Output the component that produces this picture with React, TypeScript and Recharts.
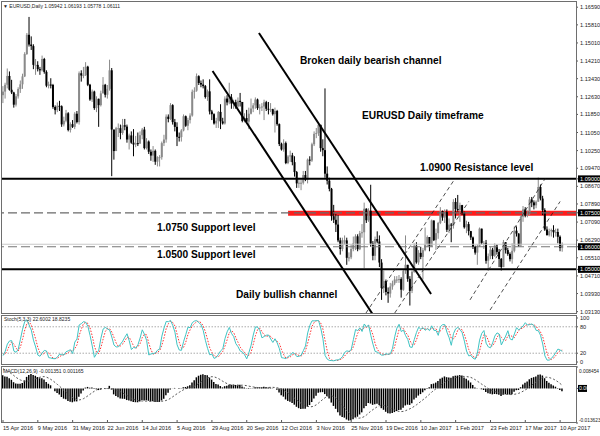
import React from "react";
import {
  ComposedChart,
  Bar,
  Line,
  XAxis,
  YAxis,
  ReferenceLine,
  ReferenceArea,
} from "recharts";

// Prices are written as pips above 1.0000 (1286 -> 1.1286)

// closes only, used to warm up the MACD averages (22 Feb - 16 Mar 2016)
const warmupCloses = [1020, 1017, 1015, 1025, 935, 873, 870, 866, 955, 1005, 1016, 1008, 996, 1180, 1150, 1106, 1105, 1223];

// bars before the visible window (17 Mar - 14 Apr 2016)
const preCloses = [1318, 1270, 1240, 1220, 1180, 1177, 1165, 1196, 1296, 1330, 1380, 1390, 1390, 1385, 1406, 1375, 1400, 1405, 1385, 1275, 1270];
const preHighs = [1342, 1330, 1280, 1265, 1230, 1190, 1200, 1210, 1305, 1345, 1395, 1440, 1410, 1420, 1415, 1440, 1420, 1435, 1465, 1395, 1300];
const preLows = [1215, 1255, 1215, 1170, 1160, 1145, 1150, 1155, 1180, 1290, 1320, 1330, 1360, 1360, 1350, 1360, 1360, 1385, 1370, 1265, 1235];

// visible daily bars, 15 Apr 2016 - 11 Apr 2017
const closes = [
  1286,
  1316, 1355, 1294, 1282, 1228, 1265, 1297, 1318, 1353, 1452,
  1537, 1494, 1487, 1404, 1404, 1385, 1380, 1430, 1373, 1312,
  1317, 1315, 1218, 1204, 1223, 1221, 1141, 1157, 1190, 1116,
  1142, 1130, 1188, 1151, 1367, 1357, 1359, 1396, 1316, 1251,
  1286, 1213, 1254, 1226, 1278, 1316, 1272, 1298, 1380, 1118,
  1023, 1124, 1124, 1103, 1137, 1131, 1074, 1092, 1060, 1052,
  1058, 1056, 1093, 1118, 1036, 1065, 1020, 1003, 1024, 976,
  996, 996, 1058, 1074, 1175, 1165, 1226, 1151, 1130, 1086,
  1085, 1114, 1177, 1135, 1160, 1180, 1285, 1290, 1354, 1324,
  1317, 1310, 1262, 1287, 1198, 1186, 1145, 1157, 1196, 1154,
  1145, 1255, 1238, 1260, 1233, 1239, 1220, 1245, 1240, 1156,
  1169, 1153, 1188, 1211, 1225, 1251, 1213, 1216, 1220, 1239,
  1210, 1206, 1208, 1186, 1200, 1142, 1054, 1030, 1058, 970,
  999, 1004, 974, 930, 880, 883, 883, 917, 896, 985,
  981, 1053, 1099, 1103, 1139, 1036, 1027, 923, 892, 856,
  735, 719, 698, 628, 590, 628, 628, 551, 553, 590,
  615, 646, 589, 660, 664, 768, 717, 759, 614, 560,
  634, 623, 530, 417, 448, 400, 393, 424, 438, 455,
  455, 457, 410, 494, 520, 458, 405, 489, 604, 531,
  573, 555, 585, 612, 643, 602, 716, 629, 660, 705,
  757, 729, 753, 675, 698, 694, 798, 767, 762, 784,
  751, 686, 700, 669, 641, 600, 574, 602, 680, 617,
  617, 538, 558, 587, 560, 605, 577, 546, 510, 620,
  585, 568, 545, 582, 671, 658, 606, 733, 765, 738,
  746, 809, 796, 783, 799, 864, 813, 762, 676, 651,
  669, 674, 664, 665, 644, 594, 611,
];
const highs = [
  1310,
  1325, 1388, 1375, 1338, 1285, 1275, 1305, 1335, 1365, 1460,
  1545, 1616, 1530, 1495, 1430, 1420, 1395, 1445, 1435, 1380,
  1330, 1345, 1320, 1225, 1238, 1245, 1225, 1175, 1205, 1195,
  1150, 1160, 1195, 1200, 1375, 1380, 1395, 1416, 1400, 1320,
  1295, 1290, 1265, 1255, 1290, 1350, 1320, 1315, 1427, 1390,
  1115, 1130, 1145, 1140, 1165, 1165, 1140, 1100, 1110, 1120,
  1090, 1105, 1110, 1125, 1130, 1080, 1070, 1030, 1045, 1030,
  1000, 1005, 1065, 1095, 1185, 1185, 1235, 1230, 1165, 1150,
  1105, 1120, 1185, 1180, 1170, 1190, 1295, 1305, 1366, 1358,
  1335, 1340, 1315, 1295, 1340, 1205, 1190, 1170, 1200, 1230,
  1170, 1265, 1270, 1325, 1275, 1250, 1250, 1260, 1280, 1240,
  1190, 1205, 1215, 1255, 1235, 1260, 1255, 1230, 1235, 1250,
  1245, 1240, 1235, 1210, 1215, 1205, 1145, 1060, 1075, 1065,
  1005, 1025, 1015, 1000, 935, 905, 900, 935, 935, 990,
  1000, 1060, 1110, 1125, 1145, 1100, 1075, 1300, 955, 905,
  860, 785, 745, 740, 640, 640, 650, 640, 575, 610,
  645, 655, 655, 670, 700, 795, 770, 770, 874, 625,
  645, 668, 650, 545, 495, 455, 420, 440, 450, 470,
  470, 475, 465, 500, 650, 495, 470, 495, 615, 620,
  585, 600, 595, 685, 650, 630, 720, 715, 680, 710,
  775, 760, 765, 765, 725, 705, 810, 815, 829, 795,
  785, 755, 715, 710, 670, 645, 605, 610, 685, 680,
  625, 630, 570, 600, 595, 615, 610, 590, 550, 630,
  620, 595, 575, 615, 690, 690, 660, 740, 780, 775,
  760, 820, 820, 805, 805, 906, 875, 825, 770, 690,
  680, 680, 695, 680, 680, 650, 619,
];
const lows = [
  1235,
  1255, 1300, 1290, 1275, 1215, 1220, 1255, 1280, 1298, 1350,
  1448, 1485, 1470, 1385, 1360, 1375, 1360, 1375, 1365, 1305,
  1300, 1300, 1210, 1185, 1195, 1200, 1130, 1132, 1150, 1110,
  1105, 1125, 1120, 1145, 1140, 1330, 1345, 1355, 1310, 1245,
  1240, 1205, 1195, 1130, 1220, 1300, 1260, 1255, 1290, 912,
  985, 1025, 1085, 1075, 1095, 1115, 1060, 1030, 1055, 1000,
  1040, 1045, 1055, 1075, 1030, 1030, 1010, 980, 975, 962,
  955, 955, 985, 1045, 1060, 1150, 1160, 1140, 1110, 1045,
  1065, 1065, 1110, 1130, 1115, 1145, 1175, 1255, 1285, 1315,
  1305, 1300, 1255, 1245, 1185, 1160, 1140, 1125, 1125, 1120,
  1140, 1140, 1225, 1230, 1210, 1210, 1210, 1215, 1220, 1150,
  1150, 1150, 1120, 1185, 1195, 1210, 1205, 1185, 1200, 1160,
  1200, 1185, 1195, 1180, 1105, 1135, 1045, 1025, 1020, 965,
  965, 975, 960, 910, 860, 860, 850, 875, 890, 880,
  960, 975, 1045, 1080, 1090, 1020, 1000, 905, 875, 845,
  715, 705, 665, 620, 565, 580, 610, 520, 535, 545,
  580, 585, 580, 585, 640, 505, 705, 710, 600, 540,
  540, 615, 510, 365, 395, 385, 352, 375, 410, 430,
  440, 440, 375, 405, 480, 445, 340, 395, 485, 525,
  520, 545, 455, 580, 600, 580, 600, 625, 585, 635,
  700, 715, 705, 665, 660, 620, 680, 725, 755, 710,
  740, 680, 660, 650, 630, 590, 565, 520, 600, 610,
  590, 525, 494, 545, 545, 555, 565, 510, 495, 510,
  570, 560, 535, 525, 575, 645, 600, 600, 710, 730,
  730, 740, 775, 765, 770, 800, 805, 740, 670, 650,
  645, 645, 640, 645, 615, 580, 578,
];

const dateTickBars = [0, 16, 32, 48, 64, 80, 96, 112, 128, 144, 160, 176, 192, 208, 224, 240, 256];
const dateLabels = [
  "15 Apr 2016", "9 May 2016", "31 May 2016", "22 Jun 2016", "14 Jul 2016", "5 Aug 2016",
  "29 Aug 2016", "20 Sep 2016", "12 Oct 2016", "3 Nov 2016", "25 Nov 2016", "19 Dec 2016",
  "10 Jan 2017", "1 Feb 2017", "23 Feb 2017", "17 Mar 2017", "10 Apr 2017",
];

const priceTicks = [
  1.1659, 1.1581, 1.1501, 1.1421, 1.1343, 1.1263, 1.1185, 1.1105, 1.1025,
  1.0947, 1.0867, 1.0789, 1.0709, 1.0629, 1.0551, 1.0471, 1.0393, 1.0313,
];
const markedLevels = [1.09, 1.075, 1.06, 1.05];
const stochTicks = [0, 20, 80, 100];
const macdTicks = [0.008454, 0, -0.013623];

// hand drawn objects: [bar, price] pairs
const bearishChannel = [
  [[96.3, 1.1377], [169.7, 1.0304]],
  [[117.6, 1.1545], [196.7, 1.0391]],
];
const bullishChannel = [
  [[166.8, 1.0307], [207.7, 1.0901]],
  [[180.0, 1.0307], [214.0, 1.0800]],
  [[214.6, 1.0365], [249.1, 1.0901]],
  [[223.8, 1.0320], [256.0, 1.0800]],
];

const X_DOMAIN: [number, number] = [-0.46, 263.3];
const PRICE_DOMAIN: [number, number] = [1.0307, 1.1682];
const BULL = "#8a8a8a";
const BEAR = "#000";
const FONT = "'Liberation Sans', Arial, sans-serif";

const px = (p: number) => 1 + p / 10000;

const bars = closes.map((c, i) => {
  const o = i === 0 ? preCloses[preCloses.length - 1] : closes[i - 1];
  const h = px(Math.max(highs[i], o, c));
  const l = px(Math.min(lows[i], o, c));
  return { i, o: px(o), h, l, c: px(c), range: [l, h] };
});

// indicators over pre-history + visible bars
const allC = [...warmupCloses, ...preCloses, ...closes].map(px);
const hlOffset = warmupCloses.length;
const allH = [...preHighs.map(px), ...bars.map((b) => b.h)];
const allL = [...preLows.map(px), ...bars.map((b) => b.l)];
const first = warmupCloses.length + preCloses.length;

const ema = (src: number[], n: number) => {
  const a = 2 / (n + 1);
  const out: number[] = [];
  src.forEach((v, i) => out.push(i === 0 ? v : out[i - 1] + a * (v - out[i - 1])));
  return out;
};
const e12 = ema(allC, 12);
const e26 = ema(allC, 26);
const macdAll = allC.map((_, i) => e12[i] - e26[i]);
const sigAll = macdAll.map((_, i) => {
  const s = macdAll.slice(Math.max(0, i - 8), i + 1);
  return s.reduce((a, b) => a + b, 0) / s.length;
});

const stochC = allC.slice(hlOffset);
const num: number[] = [];
const den: number[] = [];
stochC.forEach((c, i) => {
  const from = Math.max(0, i - 4);
  const lo = Math.min(...allL.slice(from, i + 1));
  const hi = Math.max(...allH.slice(from, i + 1));
  num.push(c - lo);
  den.push(hi - lo);
});
const kAll = stochC.map((_, i) => {
  const from = Math.max(0, i - 2);
  const n = num.slice(from, i + 1).reduce((a, b) => a + b, 0);
  const d = den.slice(from, i + 1).reduce((a, b) => a + b, 0);
  return d > 0 ? (100 * n) / d : 50;
});
const dAll = kAll.map((_, i) => {
  const s = kAll.slice(Math.max(0, i - 2), i + 1);
  return s.reduce((a, b) => a + b, 0) / s.length;
});

const rows = bars.map((b, j) => ({
  ...b,
  macd: macdAll[first + j],
  signal: sigAll[first + j],
  k: kAll[preCloses.length + j],
  d: dAll[preCloses.length + j],
}));

const Candle = (props: any) => {
  const { x, y, width, height, payload } = props;
  if (!payload) return null;
  let top = y;
  let hgt = height;
  if (hgt < 0) {
    top = y + hgt;
    hgt = -hgt;
  }
  const span = payload.h - payload.l || 1e-9;
  const toY = (v: number) => top + ((payload.h - v) / span) * hgt;
  const cx = x + width / 2;
  const color = payload.c >= payload.o ? BULL : BEAR;
  const bTop = toY(Math.max(payload.o, payload.c));
  const bBot = toY(Math.min(payload.o, payload.c));
  return (
    <g>
      <line x1={cx} x2={cx} y1={top} y2={top + hgt} stroke={color} strokeWidth={1} />
      <rect x={cx - 1} y={bTop} width={2} height={Math.max(1, bBot - bTop)} fill={color} />
    </g>
  );
};

const PriceTick = (props: any) => {
  const { x, y, payload } = props;
  const v = payload.value;
  const marked = markedLevels.some((m) => Math.abs(m - v) < 1e-7);
  return (
    <g>
      {marked && <rect x={x - 2} y={y - 3.5} width={24} height={7} fill="#000" />}
      <text x={x} y={y} dy="0.36em" fontSize={5.6} fontFamily={FONT} fill={marked ? "#fff" : "#222"} textAnchor="start">
        {v.toFixed(5)}
      </text>
    </g>
  );
};

const StochTick = (props: any) => {
  const { x, y, payload } = props;
  return (
    <text x={x} y={y} dy="0.36em" fontSize={5.6} fontFamily={FONT} fill="#222" textAnchor="start">
      {payload.value}
    </text>
  );
};

const MacdTick = (props: any) => {
  const { x, y, payload } = props;
  const v = payload.value;
  if (v === 0) {
    return (
      <g>
        <rect x={x - 1} y={y - 3.5} width={9} height={7} fill="#000" />
        <text x={x} y={y} dy="0.36em" fontSize={5.2} fontFamily={FONT} fill="#fff">0.00</text>
      </g>
    );
  }
  const dy = v > 0 ? 4 : -3;
  return (
    <text x={x} y={y + dy} dy="0.36em" fontSize={4.8} fontFamily={FONT} fill="#222">
      {v.toFixed(6)}
    </text>
  );
};

const DateTick = (props: any) => {
  const { x, y, payload } = props;
  const idx = dateTickBars.indexOf(payload.value);
  return (
    <g>
      <line x1={x} x2={x} y1={y - 3} y2={y} stroke="#555" />
      <text x={x} y={y + 7} fontSize={5.6} fontFamily={FONT} fill="#222" textAnchor="start">
        {dateLabels[idx]}
      </text>
    </g>
  );
};

const Frame = ({ top, height }: { top: number; height: number }) => (
  <div
    style={{
      position: "absolute",
      left: 1,
      top,
      width: 576,
      height,
      boxSizing: "border-box",
      border: "1px solid #6e6e6e",
      pointerEvents: "none",
    }}
  />
);

const notes = [
  { text: "Broken daily bearish channel", x: 300, y: 64 },
  { text: "EURUSD Daily timeframe", x: 362, y: 119 },
  { text: "1.0900 Resistance level", x: 420, y: 171 },
  { text: "1.0750 Support level", x: 157, y: 231 },
  { text: "1.0500 Support level", x: 157, y: 258 },
  { text: "Daily bullish channel", x: 236, y: 298 },
];

export default function App() {
  return (
    <div style={{ position: "absolute", left: 0, top: 0, width: 600, height: 436, background: "#fff", overflow: "hidden" }}>
      <div style={{ position: "absolute", left: 0, top: 0 }}>
        <ComposedChart width={600} height={316} data={rows} margin={{ top: 2, right: 0, bottom: 3, left: 2 }}>
          <XAxis dataKey="i" type="number" domain={X_DOMAIN} hide allowDataOverflow />
          <YAxis
            orientation="right"
            width={24}
            domain={PRICE_DOMAIN}
            ticks={[...priceTicks, ...markedLevels]}
            interval={0}
            tick={<PriceTick />}
            tickSize={2}
            tickLine={{ stroke: "#555" }}
            axisLine={false}
            allowDataOverflow
          />
          <ReferenceArea x1={131} x2={X_DOMAIN[1]} y1={1.0737} y2={1.0759} fill="#ff1c1c" fillOpacity={1} stroke="none" ifOverflow="hidden" />
          <Bar dataKey="range" shape={<Candle />} barSize={2} isAnimationActive={false} />
          <ReferenceLine y={1.09} stroke="#000" strokeWidth={2} />
          <ReferenceLine y={1.05} stroke="#000" strokeWidth={2} />
          <ReferenceLine y={1.075} stroke="#6a6a6a" strokeWidth={1.2} strokeDasharray="9 4" />
          <ReferenceLine y={1.0611} stroke="#c8c8c8" strokeWidth={1} />
          <ReferenceLine y={1.06} stroke="#777" strokeWidth={1.2} strokeDasharray="9 4" />
          {bearishChannel.map((s, n) => (
            <ReferenceLine
              key={`bear-${n}`}
              segment={[{ x: s[0][0], y: s[0][1] }, { x: s[1][0], y: s[1][1] }]}
              stroke="#000"
              strokeWidth={2}
              ifOverflow="hidden"
            />
          ))}
          {bullishChannel.map((s, n) => (
            <ReferenceLine
              key={`bull-${n}`}
              segment={[{ x: s[0][0], y: s[0][1] }, { x: s[1][0], y: s[1][1] }]}
              stroke="#222"
              strokeWidth={0.8}
              strokeDasharray="4 3"
              ifOverflow="hidden"
            />
          ))}
        </ComposedChart>
      </div>

      <div style={{ position: "absolute", left: 0, top: 315 }}>
        <ComposedChart width={600} height={50} data={rows} margin={{ top: 1, right: 0, bottom: 1, left: 2 }}>
          <XAxis dataKey="i" type="number" domain={X_DOMAIN} hide allowDataOverflow />
          <YAxis orientation="right" width={24} domain={[-4.5, 104.5]} ticks={stochTicks} interval={0} tick={<StochTick />} tickSize={2} tickLine={{ stroke: "#555" }} axisLine={false} allowDataOverflow />
          <ReferenceLine y={80} stroke="#aaa" strokeDasharray="1.5 1.5" />
          <ReferenceLine y={20} stroke="#aaa" strokeDasharray="1.5 1.5" />
          <Line dataKey="d" type="linear" stroke="#ff3030" strokeWidth={1} strokeDasharray="1.5 1.5" dot={false} isAnimationActive={false} />
          <Line dataKey="k" type="linear" stroke="#40c4c4" strokeWidth={1} dot={false} isAnimationActive={false} />
        </ComposedChart>
      </div>

      <div style={{ position: "absolute", left: 0, top: 366 }}>
        <ComposedChart width={600} height={70} data={rows} margin={{ top: 1, right: 0, bottom: 0, left: 2 }}>
          <XAxis
            dataKey="i"
            type="number"
            domain={X_DOMAIN}
            ticks={dateTickBars}
            interval={0}
            tick={<DateTick />}
            tickLine={false}
            tickSize={0}
            tickMargin={0}
            axisLine={false}
            height={13}
            allowDataOverflow
          />
          <YAxis orientation="right" width={24} domain={[-0.013623, 0.008454]} ticks={macdTicks} interval={0} tick={<MacdTick />} tickSize={2} tickMargin={1} tickLine={{ stroke: "#555" }} axisLine={false} allowDataOverflow />
          <Bar dataKey="macd" fill="#000" barSize={1.5} isAnimationActive={false} />
          <Line dataKey="signal" type="linear" stroke="#555" strokeWidth={1} strokeDasharray="2 2" dot={false} isAnimationActive={false} />
        </ComposedChart>
      </div>

      <Frame top={1} height={313} />
      <Frame top={315} height={50} />
      <Frame top={366} height={57} />

      <svg width={600} height={436} style={{ position: "absolute", left: 0, top: 0, pointerEvents: "none" }}>
        <text x={3} y={8} fontSize={5} fontFamily={FONT} fill="#222">
          {"\u25BC EURUSD,Daily  1.05942 1.06193 1.05778 1.06111"}
        </text>
        <text x={4} y={321} fontSize={5} fontFamily={FONT} fill="#222">Stoch(5,3,3) 22.6002 18.8235</text>
        <text x={3} y={373} fontSize={5} fontFamily={FONT} fill="#222">MACD(12,26,9) -0.001351 0.001165</text>
        {notes.map((n) => (
          <text key={n.text} x={n.x} y={n.y} fontSize={10.2} fontWeight="bold" fontFamily={FONT} fill="#000">
            {n.text}
          </text>
        ))}
      </svg>
    </div>
  );
}
